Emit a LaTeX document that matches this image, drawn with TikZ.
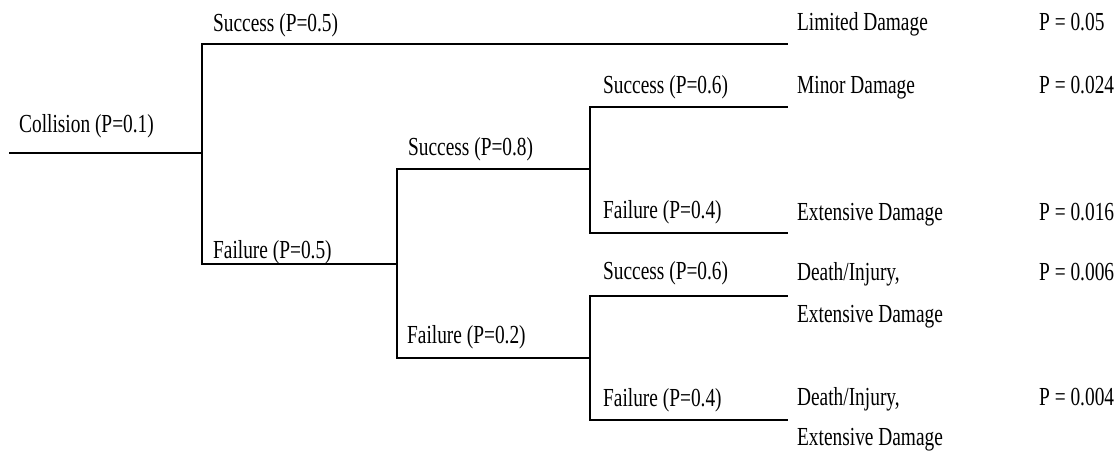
\documentclass[tikz,border=0pt]{standalone}
\usepackage{fontspec}
\setmainfont{Liberation Serif}
\tikzset{
  lbl/.style={anchor=base west, inner sep=0pt, font=\fontsize{26}{30}\selectfont, xscale=0.745},
  branch/.style={line width=2.6pt, line cap=rect, line join=miter}
}
\begin{document}
\begin{tikzpicture}[x=1pt,y=-1pt]
\useasboundingbox (0,0) rectangle (1120,451);
% tree coordinates
\coordinate (r0) at (10,153);
\coordinate (r1) at (202,153);
\coordinate (s1a) at (202,44);  \coordinate (s1b) at (787,44);
\coordinate (f1a) at (202,264); \coordinate (f1b) at (397,264);
\coordinate (s2a) at (397,169); \coordinate (s2b) at (590,169);
\coordinate (f2a) at (397,358); \coordinate (f2b) at (590,358);
\coordinate (s3a) at (590,107); \coordinate (s3b) at (787,107);
\coordinate (f3a) at (590,233); \coordinate (f3b) at (787,233);
\coordinate (s4a) at (590,296); \coordinate (s4b) at (787,296);
\coordinate (f4a) at (590,420); \coordinate (f4b) at (787,420);
% branches
\draw[branch] (r0) -- (r1);
\draw[branch] (s1b) -- (s1a) -- (f1a) -- (f1b);
\draw[branch] (s2b) -- (s2a) -- (f2a);
\draw[branch] (f1b) -- (s2a);
\draw[branch] (s3b) -- (s3a) -- (f3a) -- (f3b);
\draw[branch] (s4b) -- (s4a) -- (f4a) -- (f4b);
\draw[branch] (f2a) -- (f2b);
% branch labels
\node[lbl] (lcol) at (19,132) {Collision (P=0.1)};
\node[lbl] (ls1) at (213,31) {Success (P=0.5)};
\node[lbl] (lf1) at (213,258) {Failure (P=0.5)};
\node[lbl] (ls2) at (408,155) {Success (P=0.8)};
\node[lbl] (lf2) at (407,343) {Failure (P=0.2)};
\node[lbl] (ls3) at (603,93) {Success (P=0.6)};
\node[lbl] (lf3) at (603,218) {Failure (P=0.4)};
\node[lbl] (ls4) at (603,279) {Success (P=0.6)};
\node[lbl] (lf4) at (603,406) {Failure (P=0.4)};
% outcomes
\node[lbl] (o1) at (797,30) {Limited Damage};
\node[lbl] (o2) at (797,93) {Minor Damage};
\node[lbl] (o3) at (797,220) {Extensive Damage};
\node[lbl] (o4a) at (797,280) {Death/Injury,};
\node[lbl] (o4b) at (797,322) {Extensive Damage};
\node[lbl] (o5a) at (797,405) {Death/Injury,};
\node[lbl] (o5b) at (797,445) {Extensive Damage};
% probabilities
\node[lbl] (p1) at (1039,30) {P = 0.05};
\node[lbl] (p2) at (1039,93) {P = 0.024};
\node[lbl] (p3) at (1039,220) {P = 0.016};
\node[lbl] (p4) at (1039,280) {P = 0.006};
\node[lbl] (p5) at (1039,405) {P = 0.004};
\end{tikzpicture}
\end{document}
